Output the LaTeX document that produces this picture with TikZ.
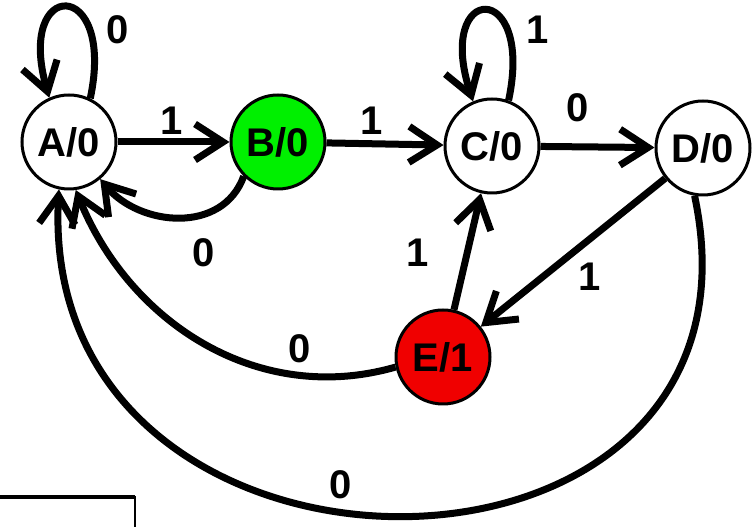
\documentclass[tikz,border=0pt]{standalone}
\usepackage{fontspec}
\setmainfont{Liberation Sans}
\usetikzlibrary{arrows.meta}
\definecolor{stgreen}{RGB}{0,240,0}
\definecolor{stred}{RGB}{240,0,0}
\begin{document}
\begin{tikzpicture}[x=1pt,y=1pt,
  state/.style={circle,draw=black,line width=3pt,minimum size=94pt,inner sep=0pt,
    font=\fontsize{40}{40}\selectfont\bfseries},
  lbl/.style={font=\fontsize{40}{40}\selectfont\bfseries,inner sep=0pt},
  conn/.style={line width=7pt,-{Straight Barb[length=28pt,width=36pt]}}]
\useasboundingbox (0,0) rectangle (756,527);
% states
\node[state] (A) at (69,385) {A/0};
\node[state,fill=stgreen] (B) at (278,385) {B/0};
\node[state] (C) at (492,381) {C/0};
\node[state] (D) at (703,379) {D/0};
\node[state,fill=stred] (E) at (443,170) {E/1};
% transitions
\draw[conn] (A.64) .. controls +(78:125) and +(106:125) .. (A.114);
\draw[conn] (C.70) .. controls +(78:125) and +(108:125) .. (C.113);
\draw[conn] (A) -- (B);
\draw[conn] (B) -- (C);
\draw[conn] (C) -- (D);
\draw[conn] (B.-135) to[out=-110,in=-50,looseness=1.1] (A.-50);
\draw[conn] (E) -- (C);
\draw[conn] (D) -- (E);
\draw[conn] (E.192) to[out=196,in=-68,looseness=1.0] (A.-82);
\draw[conn] (D.-100) to[out=-78,in=-93,looseness=1.75] (A.-102);
% labels
\node[lbl] (l1) at (118,497) {0};
\node[lbl] (l2) at (172,406) {1};
\node[lbl] (l3) at (372,406) {1};
\node[lbl] (l4) at (578,419) {0};
\node[lbl] (l5) at (538,497) {1};
\node[lbl] (l6) at (204,274) {0};
\node[lbl] (l7) at (418,274) {1};
\node[lbl] (l8) at (590,250) {1};
\node[lbl] (l9) at (300,178) {0};
\node[lbl] (l10) at (341,42) {0};
% partial box at lower left
\draw[line width=3.5pt] (-2,30) -- (135,30);
\draw[line width=1.5pt] (135,31) -- (135,-2);
\end{tikzpicture}
\end{document}
